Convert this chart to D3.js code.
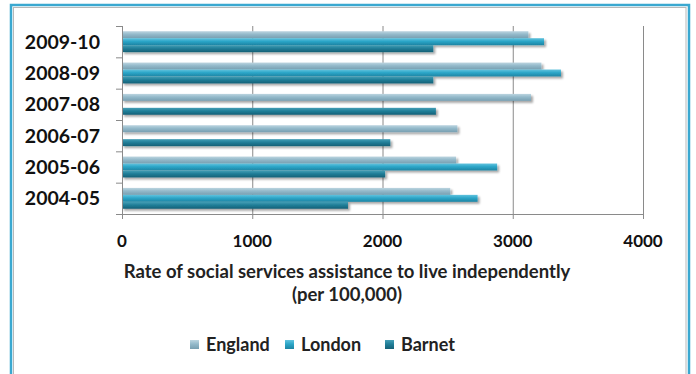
<!DOCTYPE html>
<html>
<head>
<meta charset="utf-8">
<script src="https://cdn.jsdelivr.net/npm/d3@7"></script>
<style>
  body { margin: 0; background: #fff; }
  svg { display: block; font-family: Lato, "Open Sans", sans-serif; }
</style>
</head>
<body>
<svg id="chart" width="696" height="374"></svg>
<script>
'use strict';

// values (per 100,000)
var years = ['2009-10', '2008-09', '2007-08', '2006-07', '2005-06', '2004-05'];
var seriesNames = ['England', 'London', 'Barnet'];
var england = [3120, 3220, 3140, 2575, 2565, 2520];
var london = [3240, 3370, null, null, 2880, 2730];
var barnet = [2390, 2390, 2410, 2060, 2020, 1735];
var xTicks = [0, 1000, 2000, 3000, 4000];

var colors = {
    England: ['#bcd5e0', '#93b9ca', '#789fb1'],
    London: ['#62c3de', '#2ca6c8', '#1d84a3'],
    Barnet: ['#459fb6', '#217f99', '#156177']
};

var svg = d3.select('#chart');
var defs = svg.append('defs');

seriesNames.forEach(function(name) {
    var g = defs.append('linearGradient')
        .attr('id', 'grad-' + name)
        .attr('x1', 0).attr('y1', 0).attr('x2', 0).attr('y2', 1);
    g.append('stop').attr('offset', '0%').attr('stop-color', colors[name][0]);
    g.append('stop').attr('offset', '45%').attr('stop-color', colors[name][1]);
    g.append('stop').attr('offset', '100%').attr('stop-color', colors[name][2]);
});

var shadow = defs.append('filter').attr('id', 'shadow')
    .attr('x', '-5%').attr('y', '-50%').attr('width', '110%').attr('height', '250%');
shadow.append('feGaussianBlur').attr('in', 'SourceAlpha').attr('stdDeviation', 1.2).attr('result', 'blur');
shadow.append('feOffset').attr('dx', 1.5).attr('dy', 2).attr('result', 'off');
shadow.append('feComponentTransfer').append('feFuncA').attr('type', 'linear').attr('slope', 0.35);
var merge = shadow.append('feMerge');
merge.append('feMergeNode');
merge.append('feMergeNode').attr('in', 'SourceGraphic');

// frame
svg.append('rect')
    .attr('x', 11).attr('y', 5).attr('width', 678).attr('height', 380)
    .attr('fill', 'none').attr('stroke', '#3aa8d0').attr('stroke-width', 2.5);
svg.append('rect')
    .attr('x', 13.5).attr('y', 7.5).attr('width', 672.5).attr('height', 375)
    .attr('fill', 'none').attr('stroke', '#b8b8b8').attr('stroke-width', 1);

var plot = { left: 122, right: 643, top: 26, bottom: 214 };

var x = d3.scaleLinear().domain([0, 4000]).range([plot.left, plot.right]);
var y = d3.scaleBand().domain(years).range([plot.top, plot.bottom])
    .paddingInner(1 / 3).paddingOuter(1 / 6);
var ySub = d3.scaleBand().domain(seriesNames).range([0, y.bandwidth()]);

// gridlines
svg.append('g').selectAll('line')
    .data(xTicks.slice(1))
    .enter().append('line')
        .attr('x1', function(d) { return x(d) + 0.5; })
        .attr('x2', function(d) { return x(d) + 0.5; })
        .attr('y1', plot.top).attr('y2', plot.bottom)
        .attr('stroke', '#8a8a8a');

// bars
var rows = [];
years.forEach(function(yr, i) {
    rows.push({ year: yr, series: 'England', value: england[i] });
    rows.push({ year: yr, series: 'London', value: london[i] });
    rows.push({ year: yr, series: 'Barnet', value: barnet[i] });
});

svg.append('g').attr('filter', 'url(#shadow)')
    .selectAll('rect')
    .data(rows.filter(function(d) { return d.value != null; }))
    .enter().append('rect')
        .attr('x', x(0))
        .attr('y', function(d) { return y(d.year) + ySub(d.series); })
        .attr('width', function(d) { return x(d.value) - x(0); })
        .attr('height', ySub.bandwidth())
        .attr('fill', function(d) { return 'url(#grad-' + d.series + ')'; });

// y axis
var yAxis = svg.append('g').attr('stroke', '#8a8a8a');
yAxis.append('line')
    .attr('x1', plot.left + 0.5).attr('x2', plot.left + 0.5)
    .attr('y1', plot.top).attr('y2', plot.bottom);
yAxis.selectAll('line.tick')
    .data(d3.range(years.length + 1))
    .enter().append('line')
        .attr('class', 'tick')
        .attr('x1', plot.left - 6).attr('x2', plot.left)
        .attr('y1', function(i) { return plot.top + i * y.step() + 0.5; })
        .attr('y2', function(i) { return plot.top + i * y.step() + 0.5; });

svg.append('g').selectAll('text')
    .data(years)
    .enter().append('text')
        .attr('x', 100)
        .attr('y', function(d) { return y(d) + y.bandwidth() / 2 + 7; })
        .attr('text-anchor', 'end')
        .attr('font-size', 19.5)
        .attr('font-weight', 'bold')
        .attr('fill', '#111')
        .text(function(d) { return d; });

// x axis
var xAxis = svg.append('g').attr('stroke', '#8a8a8a');
xAxis.append('line')
    .attr('x1', plot.left).attr('x2', plot.right)
    .attr('y1', plot.bottom + 0.5).attr('y2', plot.bottom + 0.5);
xAxis.selectAll('line.tick')
    .data(xTicks)
    .enter().append('line')
        .attr('class', 'tick')
        .attr('x1', function(d) { return x(d) + 0.5; })
        .attr('x2', function(d) { return x(d) + 0.5; })
        .attr('y1', plot.bottom).attr('y2', plot.bottom + 5);

svg.append('g').selectAll('text')
    .data(xTicks)
    .enter().append('text')
        .attr('x', function(d) { return x(d); })
        .attr('y', 247)
        .attr('text-anchor', 'middle')
        .attr('font-size', 17)
        .attr('font-weight', 'bold')
        .attr('fill', '#111')
        .text(function(d) { return d; });

// axis title
var title = svg.append('text')
    .attr('text-anchor', 'middle')
    .attr('font-size', 18.5)
    .attr('font-weight', 'bold')
    .attr('fill', '#222');
title.append('tspan').attr('x', 347).attr('y', 278)
    .text('Rate of social services assistance to live independently');
title.append('tspan').attr('x', 347).attr('y', 301)
    .text('(per 100,000)');

// legend
var legendX = [190, 285, 385];
var legend = svg.append('g').selectAll('g')
    .data(seriesNames)
    .enter().append('g')
        .attr('transform', function(d, i) { return 'translate(' + legendX[i] + ',340)'; });
legend.append('rect')
    .attr('width', 9).attr('height', 9)
    .attr('fill', function(d) { return 'url(#grad-' + d + ')'; });
legend.append('text')
    .attr('x', 16).attr('y', 11)
    .attr('font-size', 18)
    .attr('font-weight', 'bold')
    .attr('fill', '#222')
    .text(function(d) { return d; });
</script>
</body>
</html>
